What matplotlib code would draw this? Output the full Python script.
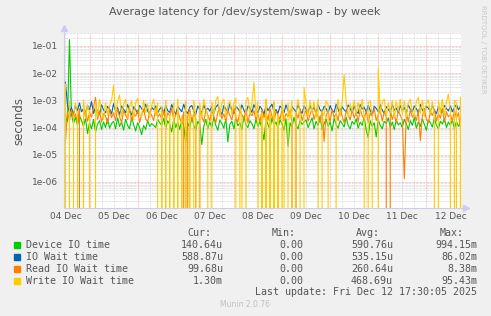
import numpy as np
import matplotlib
matplotlib.use("Agg")
import matplotlib.pyplot as plt
from matplotlib.ticker import FixedLocator, LogLocator, NullFormatter, FixedFormatter

# hourly averages in microseconds, starting 04 Dec 00:00 (0 = no latency)
device_io = [
    250, 160, 170000, 300, 140, 240, 120, 280, 180, 110, 220, 60, 150, 90, 200, 70, 130, 180, 85, 160, 100, 210, 95, 140,
    170, 90, 230, 110, 160, 80, 200, 120, 90, 240, 130, 75, 150, 100, 55, 120, 85, 180, 110, 140, 120, 100, 200, 150,
    120, 220, 90, 180, 130, 70, 210, 100, 160, 85, 190, 110, 28, 150, 95, 230, 120, 80, 170, 130, 24, 110, 200, 90,
    160, 100, 240, 120, 80, 190, 140, 95, 210, 30, 130, 170, 90, 220, 115, 150, 85, 260, 125, 100, 180, 140, 90, 200,
    110, 170, 90, 35, 200, 130, 85, 230, 120, 160, 95, 190, 140, 80, 210, 20, 150, 100, 240, 120, 90, 180, 130, 160,
    190, 100, 150, 230, 90, 170, 120, 260, 85, 140, 200, 110, 160, 75, 220, 130, 95, 180, 140, 105, 240, 120, 90, 170,
    130, 210, 95, 160, 120, 250, 80, 43, 180, 110, 150, 45, 200, 120, 90, 170, 140, 230, 100, 160, 85, 190, 125, 150,
    100, 200, 140, 85, 180, 120, 240, 95, 160, 110, 210, 130, 80, 190, 150, 105, 230, 120, 90, 170, 135, 220, 100, 160,
    120, 190, 90, 170, 110, 141,
]
io_wait = [
    4600, 700, 350, 550, 300, 620, 420, 800, 380, 500, 280, 650, 450, 900, 330, 560, 400, 300, 680, 450, 350, 600, 480, 320,
    750, 400, 550, 300, 620, 480, 350, 700, 420, 290, 580, 460, 330, 650, 500, 380, 720, 400, 300, 560, 450, 620, 350, 480,
    580, 320, 650, 420, 360, 700, 450, 300, 600, 480, 380, 720, 410, 330, 560, 650, 400, 300, 620, 470, 350, 680, 430, 520,
    400, 620, 330, 560, 700, 420, 300, 640, 480, 360, 750, 430, 320, 590, 500, 380, 680, 440, 310, 620, 520, 360, 700, 450,
    350, 600, 480, 300, 650, 420, 560, 720, 380, 460, 330, 620, 500, 350, 680, 420, 300, 590, 470, 380, 700, 440, 330, 620,
    480, 350, 650, 420, 560, 320, 700, 450, 380, 600, 500, 330, 640, 430, 360, 720, 470, 310, 580, 450, 380, 680, 500, 350,
    620, 400, 330, 700, 480, 560, 360, 650, 420, 300, 600, 510, 380, 680, 440, 330, 590, 470, 360, 720, 430, 520, 350, 640,
    420, 560, 330, 680, 470, 380, 620, 500, 340, 700, 450, 360, 600, 520, 380, 660, 430, 320, 590, 480, 370, 650, 500, 410,
    620, 380, 540, 700, 450, 589,
]
read_wait = [
    30, 380, 180, 450, 220, 320, 150, 500, 0, 260, 420, 170, 350, 240, 550, 1300, 200, 400, 160, 330, 270, 140, 460, 230,
    350, 180, 480, 250, 150, 410, 290, 200, 520, 170, 340, 260, 430, 150, 300, 470, 210, 160, 390, 280, 180, 500, 240, 320,
    200, 420, 160, 350, 270, 510, 180, 300, 440, 220, 150, 380, 0, 260, 480, 170, 330, 210, 0, 400, 250, 160, 460, 290,
    180, 430, 260, 150, 370, 500, 210, 320, 170, 440, 280, 190, 520, 240, 160, 390, 300, 200, 470, 150, 340, 270, 420, 190,
    310, 160, 450, 230, 380, 180, 520, 260, 150, 400, 290, 200, 480, 170, 330, 250, 420, 160, 0, 370, 220, 500, 180, 300,
    430, 170, 290, 510, 200, 360, 250, 150, 440, 31, 280, 390, 160, 470, 230, 330, 180, 520, 260, 150, 400, 300, 190, 460,
    220, 380, 160, 490, 270, 200, 430, 150, 340, 260, 510, 180, 300, 420, 170, 380, 240, 0, 460, 200, 330, 150, 420, 280,
    190, 1.3, 350, 160, 470, 240, 310, 180, 420, 33, 270, 500, 200, 150, 390, 280, 460, 170, 330, 220, 510, 160, 380, 250,
    300, 170, 450, 220, 350, 100,
]
write_wait = [
    4000, 0, 900, 0, 250, 800, 300, 0, 0, 1000, 220, 700, 350, 0, 0, 900, 260, 1100, 400, 200, 800, 300, 650, 1000,
    3500, 300, 900, 1600, 250, 700, 1100, 220, 600, 950, 200, 800, 1200, 300, 250, 1000, 350, 750, 230, 650, 1100, 280, 800, 0,
    600, 0, 1000, 0, 300, 0, 800, 0, 1100, 0, 250, 0, 900, 0, 350, 0, 1000, 300, 0, 800, 220, 1100, 500, 280,
    0, 900, 300, 1000, 1400, 250, 800, 1100, 220, 650, 950, 300, 800, 1200, 0, 700, 250, 0, 900, 1300, 300, 800, 4600, 280,
    900, 0, 350, 0, 1100, 0, 300, 0, 900, 0, 280, 0, 1000, 250, 0, 800, 220, 1000, 0, 350, 1100, 300, 0, 3000,
    800, 250, 1000, 350, 900, 220, 1100, 0, 400, 280, 950, 700, 0, 0, 0, 350, 1100, 260, 850, 9000, 900, 230, 750, 400,
    1000, 300, 850, 350, 1100, 250, 0, 800, 950, 280, 0, 0, 15000, 350, 850, 1100, 260, 800, 350, 1000, 220, 900, 400, 1100,
    300, 950, 250, 800, 1100, 350, 280, 900, 1300, 330, 1000, 250, 800, 1050, 300, 900, 220, 0, 950, 350, 1100, 280, 850, 1700,
    400, 0, 1000, 800, 0, 1300,
]

names = ["Device IO time", "IO Wait time", "Read IO Wait time", "Write IO Wait time"]
colors = ["#00CC00", "#0066B3", "#FF8000", "#FFCC00"]
series = [device_io, io_wait, read_wait, write_wait]
cur = ["140.64u", "588.87u", "99.68u", "1.30m"]
mins = ["0.00", "0.00", "0.00", "0.00"]
avgs = ["590.76u", "535.15u", "260.64u", "468.69u"]
maxs = ["994.15m", "86.02m", "8.38m", "95.43m"]
day_labels = ["04 Dec", "05 Dec", "06 Dec", "07 Dec", "08 Dec", "09 Dec", "10 Dec", "11 Dec", "12 Dec"]
ytick_vals = [1e-6, 1e-5, 1e-4, 1e-3, 1e-2, 1e-1]
ytick_labels = ["1e-06", "1e-05", "1e-04", "1e-03", "1e-02", "1e-01"]

fig = plt.figure(figsize=(4.91, 3.16), dpi=100, facecolor="#F0F0F0")
ax = fig.add_axes([64/491, 108/316, 397/491, 175/316])
ax.set_facecolor("white")

for vals, c in zip(series, colors):
    t = np.arange(len(vals)) / 24.0
    ax.plot(t, np.array(vals, dtype=float) * 1e-6, color=c, lw=0.8, zorder=3)

ax.set_yscale("log", nonpositive="clip")
ax.set_ylim(1.1e-7, 0.30)
ax.set_xlim(-0.03, 8.22)

# grid
ax.yaxis.set_major_locator(FixedLocator(ytick_vals))
ax.yaxis.set_major_formatter(FixedFormatter(ytick_labels))
ax.yaxis.set_minor_locator(LogLocator(base=10, subs=np.arange(2, 10)))
ax.yaxis.set_minor_formatter(NullFormatter())
ax.grid(axis="y", which="minor", color="#c8c8c8", lw=0.5, ls=(0, (1, 1)), zorder=1)
ax.grid(axis="y", which="major", color="#f09090", lw=0.5, ls=(0, (1, 1)), zorder=1)
for q in np.arange(0, 8.3, 0.25):
    if abs(q % 1 - 0.5) < 1e-6:
        ax.axvline(q, color="#f09090", lw=0.5, ls=(0, (1, 1)), zorder=1)
    else:
        ax.axvline(q, color="#c8c8c8", lw=0.5, ls=(0, (1, 1)), zorder=1)

ax.set_xticks(range(len(day_labels)))
ax.set_xticklabels(day_labels)
ax.tick_params(axis="both", which="both", length=0, labelsize=6.5, colors="#555555", pad=3)
ax.tick_params(axis="y", pad=4)

for s in ["top", "right"]:
    ax.spines[s].set_visible(False)
for s in ["left", "bottom"]:
    ax.spines[s].set_color("#ccccee")
    ax.spines[s].set_linewidth(0.8)
ax.plot([0, 0], [1, 1.03], transform=ax.transAxes, color="#ccccee", lw=0.8, clip_on=False)
ax.plot([0], [1.03], transform=ax.transAxes, marker="^", ms=4, color="#ccccee", clip_on=False)
ax.plot([1, 1.013], [0, 0], transform=ax.transAxes, color="#ccccee", lw=0.8, clip_on=False)
ax.plot([1.013], [0], transform=ax.transAxes, marker=">", ms=4, color="#ccccee", clip_on=False)

ax.set_ylabel("seconds", fontsize=8.5, color="#555555", labelpad=5)

fig.text(245/491, 1 - 12/316, "Average latency for /dev/system/swap - by week",
         ha="center", va="center", fontsize=8, color="#555555")
fig.text(483/491, 1 - 5/316, "RRDTOOL / TOBI OETIKER", rotation=270, ha="center", va="top",
         fontsize=5, color="#c8c8c8")

# legend block
mono = dict(family="DejaVu Sans Mono", fontsize=7.2, color="#555555", va="center")
def fy(y):
    return 1 - y / 316

fig.text(211/491, fy(233), "Cur:", ha="right", **mono)
fig.text(296/491, fy(233), "Min:", ha="right", **mono)
fig.text(380/491, fy(233), "Avg:", ha="right", **mono)
fig.text(464/491, fy(233), "Max:", ha="right", **mono)
rows_y = [244.5, 256.5, 268.5, 280.5]
for i, name in enumerate(names):
    y = rows_y[i]
    fig.patches.append(plt.Rectangle((14/491, fy(y) - 3/316), 6/491, 6/316,
                                     transform=fig.transFigure, color=colors[i]))
    fig.text(26/491, fy(y), name, ha="left", **mono)
    fig.text(223/491, fy(y), cur[i], ha="right", **mono)
    fig.text(303/491, fy(y), mins[i], ha="right", **mono)
    fig.text(393/491, fy(y), avgs[i], ha="right", **mono)
    fig.text(477/491, fy(y), maxs[i], ha="right", **mono)
fig.text(477/491, fy(292), "Last update: Fri Dec 12 17:30:05 2025", ha="right", **mono)
fig.text(245/491, fy(304.5), "Munin 2.0.76", ha="center", va="center", fontsize=5.5, color="#c0c0c0")

fig.savefig("out.png", dpi=100, facecolor=fig.get_facecolor())
